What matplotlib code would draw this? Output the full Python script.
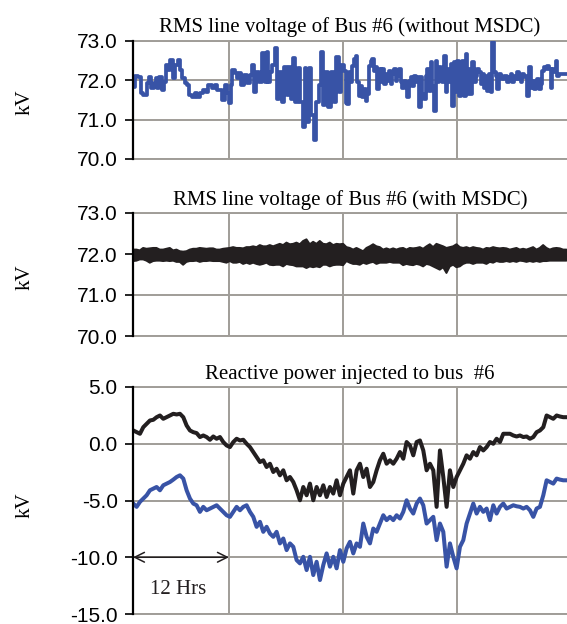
import numpy as np
import matplotlib
matplotlib.use("Agg")
import matplotlib.pyplot as plt
from matplotlib.ticker import FormatStrFormatter

plt.rcParams["axes.unicode_minus"] = False

BLUE = "#3853a6"
BLACK = "#231f20"
GRID = "#a09d98"
SANS = "Liberation Sans"
SERIF = "Liberation Serif"

# ---- Bus #6 voltage without MSDC (kV) ----
hours_nomsdc_a = [
    1.86, 2.28, 2.63, 2.81, 3.16, 3.33, 3.51, 3.75, 3.93, 4.21, 4.39, 4.46, 4.74, 5.09,
    5.26, 5.44, 5.72, 5.96, 6.21, 6.42, 6.77, 7.02, 7.19, 7.54, 7.72, 7.89, 8.25, 8.60,
    8.77, 9.12, 9.47, 9.65, 10.00, 10.35, 10.70, 10.88, 11.23, 11.40, 11.68, 11.82, 12.11,
    12.28, 12.46, 12.74, 12.98, 13.16, 13.44, 13.68, 14.04, 14.39, 14.56, 14.74, 14.98,
    15.26, 15.61, 15.89, 16.07, 16.21, 16.39, 16.67, 17.02, 17.19, 17.37, 17.72, 17.89,
    18.25, 18.42, 18.60, 18.88, 19.12, 19.37, 19.65, 19.89, 20.07, 20.25, 20.53, 20.81,
    21.05, 21.30, 21.58, 21.72, 22.00, 22.28, 22.63, 22.91, 23.16, 23.40, 23.68, 23.93,
]
kv_nomsdc_a = [
    71.83, 72.11, 72.08, 71.66, 71.62, 71.62, 71.92, 72.08, 71.79, 71.92, 72.04, 71.79, 72.08, 71.75,
    71.96, 72.38, 72.25, 72.51, 72.04, 72.38, 72.51, 72.25, 72.04, 71.92, 71.87, 71.62, 71.58, 71.66,
    71.58, 71.66, 71.75, 71.70, 71.87, 71.79, 71.87, 71.75, 71.75, 71.49, 71.87, 71.66, 71.41,
    71.87, 72.25, 72.17, 72.04, 72.17, 71.87, 72.13, 71.92, 72.13, 72.38, 71.70, 72.21,
    71.96, 72.68, 71.96, 72.72, 71.96, 72.21, 72.38, 72.81, 71.53, 72.21, 71.45, 72.34,
    71.62, 72.34, 71.53, 72.55, 71.45, 72.30, 71.45, 70.81, 72.30, 70.94, 72.30, 71.11,
    70.47, 71.45, 71.87, 72.72, 71.36, 72.21, 71.32, 72.21, 71.45, 72.59, 71.70, 72.38,
]
# second day, sampled every 0.1754 h from 24.21 h
kv_nomsdc_b = [
    72.24, 71.43, 71.39, 72.19, 71.94, 72.36, 72.53, 72.62, 71.94, 71.60, 71.86, 71.56,
    71.77, 71.47, 71.64, 72.36, 72.49, 72.53, 72.24, 72.32, 71.77, 72.28, 71.94, 72.28,
    71.90, 72.15, 71.98, 72.24, 71.90, 72.15, 72.28, 71.98, 72.11, 72.28, 71.94, 71.81,
    71.98, 71.90, 71.56, 71.98, 72.07, 71.86, 72.11, 71.94, 72.07, 71.31, 72.07, 71.64,
    71.52, 72.11, 72.28, 71.73, 72.45, 71.86, 71.22, 72.49, 71.94, 72.32, 72.19, 71.94,
    72.62, 71.69, 72.28, 71.94, 72.41, 71.35, 72.45, 71.69, 72.49, 71.60, 72.28, 72.49,
    71.60, 72.66, 71.64, 72.28, 71.64, 72.45, 71.94, 72.11, 72.28, 72.19, 71.90, 72.15,
    71.81, 72.11, 71.73, 72.15, 71.69, 72.96, 72.19, 72.11, 71.77, 72.15, 72.07, 72.03,
    72.11, 72.11, 71.94, 72.07, 72.15, 71.94, 72.11, 72.03, 72.19, 72.03, 71.94, 72.15,
    72.07, 72.11, 71.60, 72.32, 71.81, 71.98, 71.77, 71.98, 72.03, 71.77, 71.90, 72.24,
    72.32, 72.28, 72.36, 72.28, 71.81, 72.28, 72.19, 72.49, 72.11, 72.15, 72.15, 72.15,
    72.15, 72.15,
]
hours_nomsdc_b = 24.21 + 0.1754 * np.arange(len(kv_nomsdc_b))

# ---- Bus #6 voltage with MSDC: upper / lower extent of the trace (kV) ----
kv_msdc_hi = [
    72.12, 72.12, 72.10, 72.16, 72.14, 72.15, 72.16, 72.16, 72.12, 72.12, 72.14, 72.16,
    72.10, 72.12, 72.08, 72.07, 72.08, 72.12, 72.14, 72.14, 72.16, 72.15, 72.14, 72.15,
    72.15, 72.12, 72.12, 72.14, 72.15, 72.16, 72.18, 72.16, 72.16, 72.15, 72.18, 72.18,
    72.20, 72.18, 72.23, 72.20, 72.20, 72.23, 72.20, 72.23, 72.26, 72.23, 72.29, 72.25,
    72.26, 72.29, 72.25, 72.33, 72.37, 72.25, 72.31, 72.26, 72.33, 72.26, 72.25, 72.29,
    72.23, 72.26, 72.25, 72.26,
    72.18, 72.16, 72.12, 72.16, 72.12, 72.08, 72.16, 72.20, 72.25, 72.20, 72.18, 72.12,
    72.15, 72.12, 72.15, 72.12, 72.15, 72.16, 72.12, 72.16, 72.15, 72.16, 72.18, 72.14,
    72.20, 72.25, 72.18, 72.26, 72.23, 72.20, 72.16, 72.18, 72.20, 72.25, 72.18, 72.16,
    72.18, 72.15, 72.18, 72.16, 72.15, 72.12, 72.16, 72.15, 72.18, 72.16, 72.15, 72.16,
    72.15, 72.12, 72.14, 72.16, 72.12, 72.14, 72.12, 72.15, 72.18, 72.12, 72.16, 72.23,
    72.16, 72.12, 72.15, 72.16, 72.15, 72.12, 72.12,
]
kv_msdc_lo = [
    71.84, 71.85, 71.88, 71.88, 71.85, 71.80, 71.84, 71.85, 71.85, 71.84, 71.85, 71.84,
    71.85, 71.82, 71.82, 71.75, 71.82, 71.84, 71.84, 71.85, 71.82, 71.84, 71.84, 71.85,
    71.84, 71.84, 71.84, 71.82, 71.80, 71.84, 71.80, 71.80, 71.82, 71.77, 71.80, 71.77,
    71.80, 71.77, 71.75, 71.77, 71.80, 71.75, 71.74, 71.75, 71.75, 71.71, 71.77, 71.75,
    71.74, 71.71, 71.71, 71.71, 71.67, 71.71, 71.69, 71.71, 71.69, 71.75, 71.75, 71.71,
    71.74, 71.75, 71.75, 71.74,
    71.84, 71.80, 71.77, 71.77, 71.75, 71.80, 71.77, 71.80, 71.82, 71.77, 71.80, 71.80,
    71.80, 71.82, 71.80, 71.80, 71.80, 71.74, 71.77, 71.75, 71.74, 71.77, 71.75, 71.71,
    71.77, 71.75, 71.71, 71.67, 71.63, 71.69, 71.55, 71.71, 71.75, 71.69, 71.71, 71.77,
    71.80, 71.80, 71.77, 71.80, 71.80, 71.80, 71.77, 71.82, 71.80, 71.84, 71.82, 71.82,
    71.84, 71.82, 71.84, 71.82, 71.85, 71.84, 71.82, 71.84, 71.82, 71.84, 71.82, 71.84,
    71.84, 71.85, 71.85, 71.85, 71.85, 71.85, 71.85,
]
hours_msdc = 1.86 + 0.351 * np.arange(len(kv_msdc_hi))

# ---- Reactive power injected to bus #6 ----
q_black = [
    1.17, 1.02, 0.88, 1.46, 1.76, 2.05, 2.11, 2.34, 2.49, 2.20, 2.34, 2.49, 2.64, 2.58,
    2.64, 2.34, 1.61, 1.17, 1.02, 0.94, 0.59, 0.73, 0.59, 0.35, 0.64, 0.44, 0.59, 0.15,
    -0.15, -0.29, 0.15, 0.44, 0.29, 0.35, 0.00, -0.29, -0.73, -1.17, -1.61, -1.46, -2.05,
    -1.76, -2.49, -2.20, -2.78, -2.34, -3.22, -2.93, -3.37, -4.10, -4.98, -3.81, -4.54,
    -3.51, -4.98, -3.81, -4.54, -3.66, -4.69, -3.81, -4.39, -3.22, -4.54, -3.51,
    -2.93, -2.34, -4.39, -2.34, -1.76, -2.93, -2.20, -3.81, -3.37, -2.34, -1.46, -0.88,
    -1.76, -1.46, -1.76, -1.32, -0.73, -1.32, 0.15, -0.15, -1.02, 0.15, 0.29, -0.59,
    -2.34, -1.76, -2.34, -5.56, -0.59, -2.93, -5.56, -2.34, -3.81, -2.93, -2.34, -1.76,
    -1.02, -1.32, -0.73, -1.02, -0.29, -0.59, -0.29, 0.15, 0.00, 0.44, 0.15, 0.88, 0.88,
    0.88, 0.73, 0.64, 0.73, 0.59, 0.64, 0.44, 0.59, 1.02, 1.17, 1.46, 2.49, 2.34, 2.20,
    2.49, 2.40, 2.34, 2.34,
]
q_blue = [
    -5.27, -5.56, -5.12, -4.83, -4.54, -4.10, -3.95, -3.81, -4.10, -3.66, -3.51, -3.37,
    -3.16, -2.93, -2.78, -3.07, -4.10, -4.83, -5.27, -5.42, -6.00, -5.56, -5.86, -5.71,
    -5.56, -5.42, -5.71, -6.00, -6.30, -6.44, -6.00, -5.56, -5.86, -5.56, -5.42, -6.00,
    -6.44, -7.32, -6.88, -7.76, -7.32, -7.91, -8.20, -7.76, -8.78, -8.35, -9.37, -8.78,
    -9.08, -10.25, -10.54, -9.96, -11.13, -9.96, -11.57, -10.40, -12.01, -10.69, -9.66,
    -10.83, -9.96, -10.98, -9.37, -10.40,
    -9.22, -8.64, -9.66, -8.78, -9.08, -7.03, -8.20, -8.78, -7.47, -7.76, -7.03, -6.30,
    -6.73, -6.44, -6.73, -6.30, -6.59, -6.00, -4.98, -5.71, -6.15, -5.27, -4.83, -5.42,
    -7.03, -6.73, -6.44, -8.49, -7.03, -7.76, -10.83, -8.78, -9.96, -10.98, -9.08, -8.49,
    -7.03, -6.15, -5.27, -6.15, -5.56, -6.00, -5.71, -6.73, -5.42, -6.15, -5.56, -5.27,
    -5.71, -5.56, -5.42, -5.51, -5.56, -5.71, -5.56, -5.86, -6.44, -5.71, -5.56, -4.54,
    -3.22, -3.37, -3.51, -3.07, -3.16, -3.22, -3.22,
]
hours_q = 1.93 + 0.351 * np.arange(len(q_black))

TITLES = [
    "RMS line voltage of Bus #6 (without MSDC)",
    "RMS line voltage of Bus #6 (with MSDC)",
    "Reactive power injected to bus  #6",
]
HOUR_GRID = [12, 24, 36]
XMIN, XMAX = 1.9, 47.6

fig = plt.figure(figsize=(5.67, 6.24), dpi=100)
W, H = 567.0, 624.0
left = 133 / W
width = 1 - left
ax1 = fig.add_axes([left, 1 - 159 / H, width, 118.5 / H])
ax2 = fig.add_axes([left, 1 - 336 / H, width, 123 / H])
ax3 = fig.add_axes([left, 1 - 614 / H, width, 227 / H])


def style(ax, title, ylim, yticks):
    ax.set_xlim(XMIN, XMAX)
    ax.set_ylim(*ylim)
    ax.set_yticks(yticks)
    ax.yaxis.set_major_formatter(FormatStrFormatter("%.1f"))
    ax.set_xticks(HOUR_GRID)
    ax.set_xticklabels([])
    ax.tick_params(axis="x", length=0)
    ax.tick_params(axis="y", direction="out", length=6, width=1.2, color="black",
                   pad=5, labelsize=15)
    for lab in ax.get_yticklabels():
        lab.set_fontfamily(SANS)
    ax.grid(True, color=GRID, linewidth=1.4, zorder=0)
    ax.set_axisbelow(True)
    ax.spines["right"].set_visible(False)
    for s in ("top", "bottom"):
        ax.spines[s].set_color(GRID)
        ax.spines[s].set_linewidth(1.4)
    ax.spines["left"].set_color("black")
    ax.spines["left"].set_linewidth(1.6)
    ax.spines["left"].set_zorder(5)
    ax.set_title(title, fontfamily=SERIF, fontsize=15, pad=6)
    ax.set_ylabel("kV", fontfamily=SERIF, fontsize=15)
    ax.yaxis.set_label_coords(-0.228, 0.48)


style(ax1, TITLES[0], (70, 73), [70, 71, 72, 73])
style(ax2, TITLES[1], (70, 73), [70, 71, 72, 73])
style(ax3, TITLES[2], (-15, 5), [-15, -10, -5, 0, 5])

hours_nomsdc = np.concatenate([hours_nomsdc_a, hours_nomsdc_b])
kv_nomsdc = np.concatenate([kv_nomsdc_a, kv_nomsdc_b])
ax1.plot(hours_nomsdc, kv_nomsdc, color=BLUE, lw=2.7, drawstyle="steps-mid",
         zorder=3)

ax2.fill_between(hours_msdc, kv_msdc_lo, kv_msdc_hi, color=BLACK, lw=1.4,
                 edgecolor=BLACK, zorder=3)

ax3.plot(hours_q, q_black, color=BLACK, lw=2.9, zorder=3)
ax3.plot(hours_q, q_blue, color=BLUE, lw=2.9, zorder=3)

ax3.annotate("", xy=(12, -10), xytext=(XMIN, -10),
             arrowprops=dict(arrowstyle="<->,head_length=0.7,head_width=0.35",
                             color=BLACK, lw=1.1, shrinkA=0, shrinkB=0), zorder=4)
ax3.text(6.6, -12.8, "12 Hrs", fontfamily=SERIF, fontsize=15, ha="center",
         va="center", color=BLACK)

fig.savefig("out.png", dpi=100)
